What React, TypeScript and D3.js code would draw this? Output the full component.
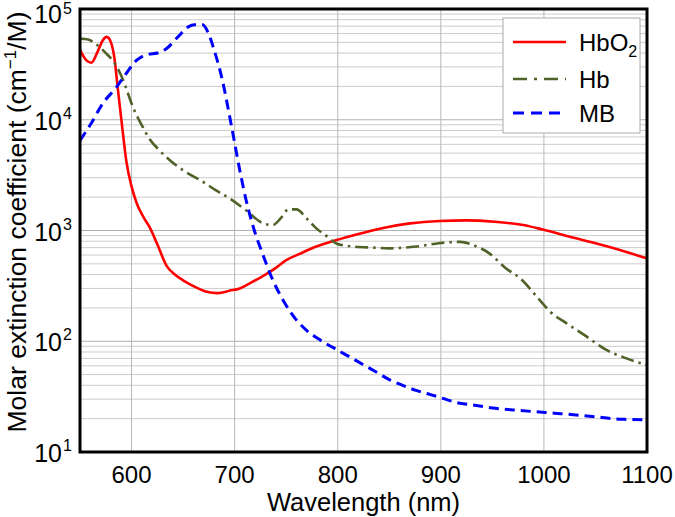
import React from "react";
import * as d3 from "d3";

const hbo2Wl = [550,556,561,567,572,576,580,583,587,591,595,600,605,612,618,625,634,642,650,660,672,684,695,705,715,727,740,750,763,780,798,820,843,870,899,925,952,980,999,1029,1061,1080,1100];
const hbo2Val = [42700,34500,32700,41000,52000,56000,50000,38000,18000,8500,4200,2500,1760,1300,1050,750,480,400,355,315,282,272,286,300,335,385,460,540,615,720,815,930,1050,1160,1220,1235,1200,1120,1020,860,720,640,560];

const hbWl = [550,558,565,570,575,582,590,595,600,610,618,627,636,650,669,682,695,710,727,737,745,752,760,770,779,790,799,815,835,850,865,876,898,919,931,947,963,977,996,1006,1022,1039,1061,1080,1100];
const hbVal = [54000,53000,48500,44500,40000,34000,25000,19000,14000,8900,6600,5300,4400,3500,2760,2300,1950,1550,1170,1120,1300,1550,1550,1280,1050,880,760,716,700,690,700,716,768,790,740,622,457,370,235,185,145,114,83,70,61];

const mbWl = [550,560,572,585,594,605,616,625,634,645,655,661,669,674,680,688,697,705,711,718,727,737,747,760,770,782,799,812,824,837,850,863,876,890,902,915,931,950,970,989,1010,1031,1050,1066,1080,1100];
const mbVal = [6500,9000,14000,19500,25500,34500,39000,40000,44000,56000,69000,72000,72000,62000,43000,23000,8700,3500,1900,1080,620,357,235,155,125,104,84,72,62,53,45,40,36,33,30.5,28,26.6,25,24,23.2,22.4,21.6,20.8,20,19.7,19.5];

const xTicks = [600, 700, 800, 900, 1000, 1100];
const yExponents = [1, 2, 3, 4, 5];

const seriesNames = ["HbO", "Hb", "MB"];

const W = 675, H = 517;
const L = 80, R = 647, T = 9, B = 452;
const FONT = "'Liberation Sans', Arial, sans-serif";

export default function App() {
  const x = d3.scaleLinear().domain([550, 1100]).range([L, R]);
  const y = d3.scaleLog().domain([10, 1e5]).range([B, T]);
  const line = d3.line<[number, number]>()
    .x(d => x(d[0]))
    .y(d => y(d[1]))
    .curve(d3.curveMonotoneX);

  const mk = (wl: number[], v: number[]) => line(wl.map((w, i) => [w, v[i]] as [number, number])) || "";

  const minorY: number[] = [];
  for (let e = 1; e < 5; e++) for (let m = 2; m <= 9; m++) minorY.push(m * Math.pow(10, e));

  const series = [
    { name: seriesNames[0], d: mk(hbo2Wl, hbo2Val), color: "#ff0000", dash: "none", w: 2.6 },
    { name: seriesNames[1], d: mk(hbWl, hbVal), color: "#4f6228", dash: "13,5,2.5,5", w: 2.6 },
    { name: seriesNames[2], d: mk(mbWl, mbVal), color: "#0000ff", dash: "10,6", w: 3 },
  ];

  const legY = [42, 79, 113];

  return (
    <svg width={W} height={H} style={{ position: "absolute", left: 0, top: 0, background: "#fff" }} fontFamily={FONT}>
      <defs>
        <clipPath id="plotclip"><rect x={L} y={T} width={R - L} height={B - T} /></clipPath>
      </defs>
      <rect x={0} y={0} width={W} height={H} fill="#fff" />
      {minorY.map((v, i) => (
        <line key={"m" + i} x1={L} x2={R} y1={y(v)} y2={y(v)} stroke="#cccccc" strokeWidth={1} />
      ))}
      {yExponents.map(e => (
        <line key={"M" + e} x1={L} x2={R} y1={y(Math.pow(10, e))} y2={y(Math.pow(10, e))} stroke="#b0b0b0" strokeWidth={1} />
      ))}
      {xTicks.map(t => (
        <line key={"v" + t} x1={x(t)} x2={x(t)} y1={T} y2={B} stroke="#b8b8b8" strokeWidth={1} />
      ))}
      <g clipPath="url(#plotclip)">
        {series.map(s => (
          <path key={s.name} d={s.d} fill="none" stroke={s.color} strokeWidth={s.w} strokeDasharray={s.dash} strokeLinejoin="round" />
        ))}
      </g>
      <rect x={L} y={T} width={R - L} height={B - T} fill="none" stroke="#000" strokeWidth={3} />
      {xTicks.map(t => (
        <text key={"xt" + t} x={x(t)} y={483} fontSize={24} textAnchor="middle" fill="#000">{t}</text>
      ))}
      {yExponents.map(e => {
        const yy = y(Math.pow(10, e));
        return (
          <g key={"yt" + e}>
            <text x={62} y={Math.max(yy + 10, 23)} fontSize={25} textAnchor="end" fill="#000">10</text>
            <text x={63} y={Math.max(yy - 1, 14)} fontSize={16} textAnchor="start" fill="#000">{e}</text>
          </g>
        );
      })}
      <text x={(L + R) / 2} y={511} fontSize={25.5} textAnchor="middle" fill="#000">Wavelength (nm)</text>
      <text transform={`translate(26,222) rotate(-90)`} fontSize={26.5} textAnchor="middle" fill="#000">
        Molar extinction coefficient (cm<tspan fontSize={17} dy={-10}>−1</tspan><tspan dy={10}>/M)</tspan>
      </text>
      <rect x={503} y={18} width={137} height={115} fill="#fff" stroke="#aaaaaa" strokeWidth={1} />
      {series.map((s, i) => (
        <g key={"lg" + i}>
          <line x1={513} x2={566} y1={legY[i]} y2={legY[i]} stroke={s.color} strokeWidth={s.w} strokeDasharray={s.dash === "none" ? undefined : (i === 1 ? "14,7,3,7" : "11,7")} />
          <text x={579} y={legY[i] + 9} fontSize={24} fill="#000">
            {s.name}
            {i === 0 ? <tspan fontSize={16} dy={6}>2</tspan> : null}
          </text>
        </g>
      ))}
    </svg>
  );
}
